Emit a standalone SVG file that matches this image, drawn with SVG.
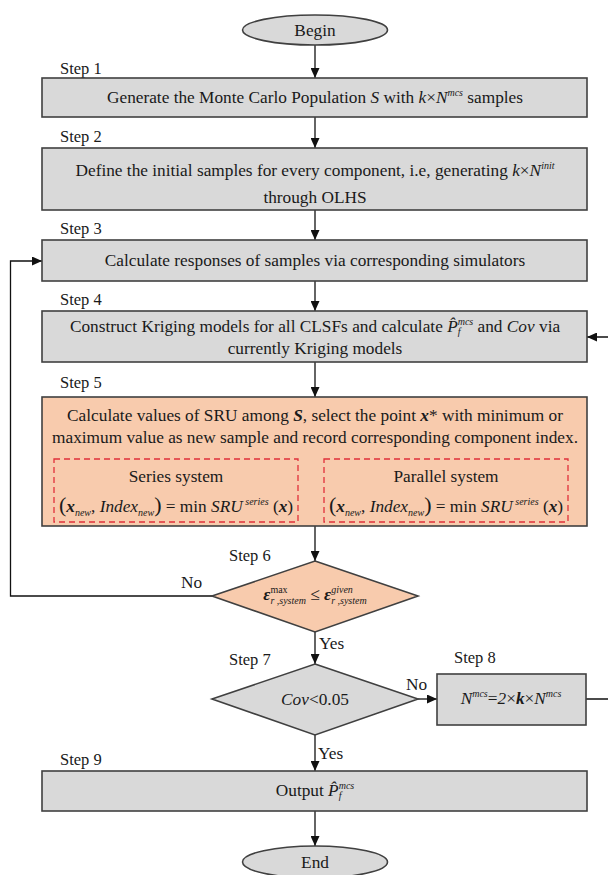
<svg xmlns="http://www.w3.org/2000/svg" width="608" height="875" viewBox="0 0 608 875">
  <defs>
    <marker id="arrow" viewBox="0 0 10 9" refX="10" refY="4.5" markerWidth="11" markerHeight="9" markerUnits="userSpaceOnUse" orient="auto">
      <path d="M0,0 L10,4.5 L0,9 z" fill="#111"/>
    </marker>
    <style>
      text { font-family: "Liberation Serif", "Times New Roman", serif; font-size: 17.3px; fill: #1a1a1a; }
      .lbl { font-size: 16.5px; }
      .c { text-anchor: middle; }
      .i { font-style: italic; }
      .bi { font-style: italic; font-weight: bold; }
      .sm { font-size: 10px; font-style: italic; }
      .smu { font-size: 10px; }
      .big { font-size: 22px; }
      .box { fill: #d9d9d9; stroke: #404040; stroke-width: 1.6; }
      .hot { fill: #f8cbad; stroke: #404040; stroke-width: 1.6; }
      .dash { fill: none; stroke: #e0303a; stroke-width: 1.3; stroke-dasharray: 6 4; }
      .wire { fill: none; stroke: #111; stroke-width: 1.3; }
    </style>
  </defs>

  <!-- connectors -->
  <g id="connectors">
    <line class="wire" x1="315" y1="45" x2="315" y2="78" marker-end="url(#arrow)"/>
    <line class="wire" x1="315" y1="117" x2="315" y2="148" marker-end="url(#arrow)"/>
    <line class="wire" x1="315" y1="210" x2="315" y2="240" marker-end="url(#arrow)"/>
    <line class="wire" x1="315" y1="281" x2="315" y2="311" marker-end="url(#arrow)"/>
    <line class="wire" x1="315" y1="362" x2="315" y2="397" marker-end="url(#arrow)"/>
    <line class="wire" x1="315" y1="526" x2="315" y2="561" marker-end="url(#arrow)"/>
    <line class="wire" x1="315" y1="632" x2="315" y2="664" marker-end="url(#arrow)"/>
    <line class="wire" x1="315" y1="735" x2="315" y2="771" marker-end="url(#arrow)"/>
    <line class="wire" x1="315" y1="811" x2="315" y2="846" marker-end="url(#arrow)"/>
    <line class="wire" x1="418" y1="699" x2="437" y2="699" marker-end="url(#arrow)"/>
    <!-- Step 8 back to Step 4 (returns along the right margin) -->
    <path class="wire" d="M586,699 H620 V337 H587" marker-end="url(#arrow)"/>
    <!-- Step 6 "No" branch back to Step 3 -->
    <path class="wire" d="M212,596 H10.5 V261 H42" marker-end="url(#arrow)"/>
    <text x="181" y="588">No</text>
    <text x="319" y="649">Yes</text>
    <text x="406" y="690">No</text>
    <text x="318" y="759">Yes</text>
  </g>

  <!-- terminals -->
  <g id="begin">
    <ellipse cx="315" cy="30" rx="72.5" ry="15" class="box"/>
    <text x="315" y="36" class="c">Begin</text>
  </g>

  <g id="step1">
    <text x="60" y="74" class="lbl">Step 1</text>
    <rect x="42" y="78" width="545" height="39" class="box"/>
    <text x="315" y="103" class="c">Generate the Monte Carlo Population <tspan class="i">S</tspan> with <tspan class="i">k</tspan>×<tspan class="i">N</tspan><tspan class="sm" dy="-7">mcs</tspan><tspan dy="7"> samples</tspan></text>
  </g>

  <g id="step2">
    <text x="60" y="142" class="lbl">Step 2</text>
    <rect x="42" y="148" width="545" height="62" class="box"/>
    <text x="315" y="176" class="c">Define the initial samples for every component, i.e, generating  <tspan class="i">k</tspan>×<tspan class="i">N</tspan><tspan class="sm" dy="-7">init</tspan></text>
    <text x="315" y="203" class="c">through OLHS</text>
  </g>

  <g id="step3">
    <text x="60" y="234" class="lbl">Step 3</text>
    <rect x="42" y="240" width="545" height="41" class="box"/>
    <text x="315" y="266" class="c">Calculate responses of samples via corresponding simulators</text>
  </g>

  <g id="step4">
    <text x="60" y="305" class="lbl">Step 4</text>
    <rect x="42" y="311" width="545" height="51" class="box"/>
    <text x="315" y="332" class="c">Construct Kriging models for all CLSFs and calculate <tspan class="i">P̂</tspan><tspan class="sm" dy="-7">mcs</tspan><tspan class="sm" dx="-15.5" dy="10">f</tspan><tspan dx="12.7" dy="-3"> and </tspan><tspan class="i">Cov</tspan> via</text>
    <text x="315" y="354" class="c">currently Kriging models</text>
  </g>

  <g id="step5">
    <text x="60" y="388" class="lbl">Step 5</text>
    <rect x="42" y="397" width="545" height="129" class="hot"/>
    <text x="315" y="421" class="c">Calculate values of SRU among <tspan class="bi">S</tspan>, select the point <tspan class="bi">x</tspan>* with minimum or</text>
    <text x="315" y="443" class="c">maximum value as new sample and record corresponding component index.</text>
    <rect x="54" y="459" width="244" height="63" class="dash"/>
    <rect x="324" y="459" width="244" height="63" class="dash"/>
    <text x="176" y="482" class="c">Series system</text>
    <text x="446" y="482" class="c">Parallel system</text>
    <text x="176" y="512" class="c"><tspan class="big">(</tspan><tspan class="bi">x</tspan><tspan class="sm" dy="4">new</tspan><tspan dy="-4">, </tspan><tspan class="i">Index</tspan><tspan class="sm" dy="4">new</tspan><tspan class="big" dy="-4">)</tspan> = min <tspan class="i">SRU</tspan><tspan class="sm" dy="-7"> series</tspan><tspan dy="7"> (</tspan><tspan class="bi">x</tspan>)</text>
    <text x="446" y="512" class="c"><tspan class="big">(</tspan><tspan class="bi">x</tspan><tspan class="sm" dy="4">new</tspan><tspan dy="-4">, </tspan><tspan class="i">Index</tspan><tspan class="sm" dy="4">new</tspan><tspan class="big" dy="-4">)</tspan> = min <tspan class="i">SRU</tspan><tspan class="sm" dy="-7"> series</tspan><tspan dy="7"> (</tspan><tspan class="bi">x</tspan>)</text>
  </g>

  <g id="step6">
    <text x="229" y="561" class="lbl">Step 6</text>
    <polygon points="315,561 418,596 315,632 212,596" class="hot"/>
    <text x="315" y="600" class="c"><tspan class="bi">ε</tspan><tspan class="smu" dy="-7">max</tspan><tspan class="sm" dx="-17.2" dy="11">r ,system</tspan><tspan dy="-4">  ≤ </tspan><tspan class="bi">ε</tspan><tspan class="sm" dy="-7">given</tspan><tspan class="sm" dx="-21.7" dy="11">r ,system</tspan></text>
  </g>

  <g id="step7">
    <text x="229" y="665" class="lbl">Step 7</text>
    <polygon points="315,664 418,699 315,735 212,699" class="box"/>
    <text x="315" y="705" class="c"><tspan class="i">Cov</tspan>&lt;0.05</text>
  </g>

  <g id="step8">
    <text x="454" y="663" class="lbl">Step 8</text>
    <rect x="437" y="674" width="149" height="51" class="box"/>
    <text x="511" y="704" class="c"><tspan class="i">N</tspan><tspan class="sm" dy="-7">mcs</tspan><tspan dy="7">=</tspan><tspan class="i">2</tspan>×<tspan class="bi">k</tspan>×<tspan class="i">N</tspan><tspan class="sm" dy="-7">mcs</tspan></text>
  </g>

  <g id="step9">
    <text x="60" y="765" class="lbl">Step 9</text>
    <rect x="42" y="771" width="545" height="40" class="box"/>
    <text x="315" y="796" class="c">Output  <tspan class="i">P̂</tspan><tspan class="sm" dy="-7">mcs</tspan><tspan class="sm" dx="-15.5" dy="10">f</tspan></text>
  </g>

  <g id="end">
    <ellipse cx="315" cy="862" rx="72.5" ry="16" class="box"/>
    <text x="315" y="868" class="c">End</text>
  </g>
</svg>
